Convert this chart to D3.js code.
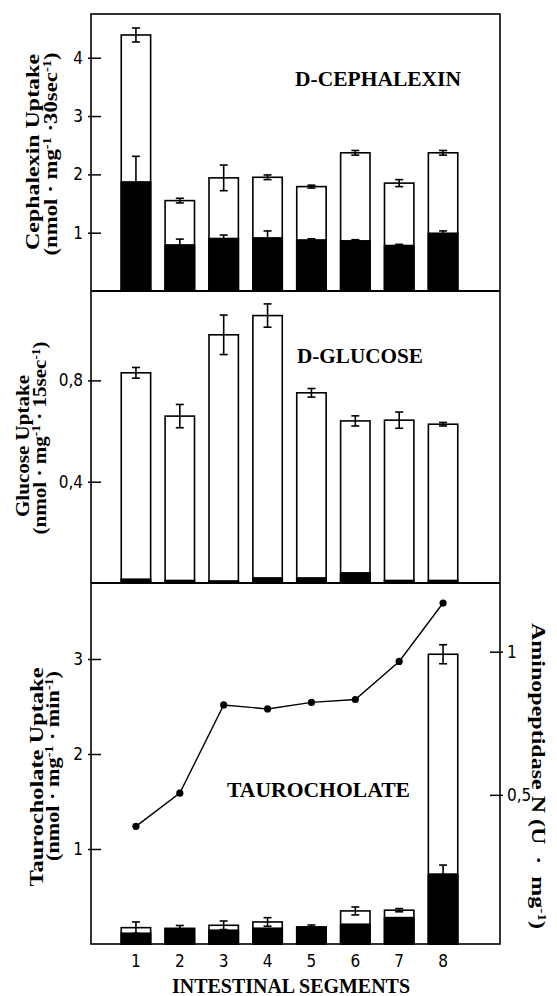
<!DOCTYPE html>
<html>
<head>
<meta charset="utf-8">
<script src="https://cdn.jsdelivr.net/npm/d3@7"></script>
<style>
  body { margin: 0; background: #fff; }
  text { white-space: pre; }
</style>
</head>
<body>
<script>
const segments = [1, 2, 3, 4, 5, 6, 7, 8];

// D-cephalexin uptake, total bar (white) and black part
const cephTotal = [4.39, 1.55, 1.94, 1.95, 1.79, 2.37, 1.85, 2.37];
const cephTotalErr = [0.12, 0.04, 0.22, 0.04, 0.025, 0.04, 0.06, 0.04];
const cephBlack = [1.87, 0.79, 0.9, 0.91, 0.875, 0.86, 0.78, 0.99];
const cephBlackErr = [0.44, 0.1, 0.06, 0.12, 0.02, 0.02, 0.02, 0.04];

// D-glucose uptake
const glucTotal = [0.83, 0.659, 0.98, 1.056, 0.751, 0.64, 0.643, 0.627];
const glucTotalErr = [0.021, 0.046, 0.078, 0.046, 0.017, 0.02, 0.032, 0.007];
const glucBlack = [0.015, 0.01, 0.008, 0.02, 0.02, 0.04, 0.01, 0.01];

// taurocholate uptake
const tauroTotal = [0.172, 0.165, 0.197, 0.232, 0.18, 0.348, 0.356, 3.05];
const tauroTotalErr = [0.06, 0.03, 0.045, 0.045, 0.02, 0.042, 0.017, 0.1];
const tauroBlack = [0.113, 0.155, 0.145, 0.166, 0.175, 0.208, 0.278, 0.736];
const tauroBlackErr = [0, 0, 0, 0, 0, 0, 0, 0.095];

// aminopeptidase N activity (right axis)
const aminoN = [0.39, 0.506, 0.814, 0.8, 0.823, 0.833, 0.966, 1.17];

const cephTicks = [1, 2, 3, 4];
const glucTicks = [0.4, 0.8];
const tauroTicks = [1, 2, 3];
const aminoTicks = [0.5, 1];

const width = 557,
  height = 996;
const frameL = 91,
  frameR = 500,
  frameT = 14,
  base1 = 291,
  base2 = 583,
  base3 = 944;

const serif = "'Liberation Serif', 'Times New Roman', serif";
const narrow = "'DejaVu Sans Condensed', 'Liberation Sans Narrow', sans-serif";
const comma = d => String(d).replace(".", ",");

const svg = d3
  .select("body")
  .append("svg")
  .attr("width", width)
  .attr("height", height);

const x = d3
  .scaleBand()
  .domain(segments)
  .range([114, 465])
  .paddingInner(0.33)
  .paddingOuter(0.165);

const yCeph = d3.scaleLinear().domain([0, 4.75]).range([base1, frameT]);
const yGluc = d3.scaleLinear().domain([0, 1.153]).range([base2, base1]);
const yTauro = d3.scaleLinear().domain([0, 3.8]).range([base3, base2]);
const yAmino = d3.scaleLinear().domain([0, 1.24]).range([938, base2]);

function drawBars(total, totalErr, black, blackErr, y) {
  const g = svg.append("g");
  const bw = x.bandwidth();

  g.selectAll("rect.total")
    .data(segments)
    .enter()
    .append("rect")
    .attr("class", "total")
    .attr("x", d => x(d))
    .attr("width", bw)
    .attr("y", (d, i) => y(total[i]))
    .attr("height", (d, i) => y(0) - y(total[i]))
    .attr("fill", "#fff")
    .attr("stroke", "#000")
    .attr("stroke-width", 1.6);

  g.selectAll("rect.black")
    .data(segments)
    .enter()
    .append("rect")
    .attr("class", "black")
    .attr("x", d => x(d))
    .attr("width", bw)
    .attr("y", (d, i) => y(black[i]))
    .attr("height", (d, i) => y(0) - y(black[i]))
    .attr("fill", "#000")
    .attr("stroke", "#000")
    .attr("stroke-width", 1.6);

  function errors(vals, errs) {
    if (!errs) return;
    const cx = d => x(d) + bw / 2;
    const idx = d => segments.indexOf(d);
    const e = g
      .append("g")
      .selectAll("g")
      .data(segments.filter((d, i) => errs[i] > 0))
      .enter()
      .append("g")
      .attr("stroke", "#000")
      .attr("stroke-width", 1.6);
    e.append("line")
      .attr("x1", cx)
      .attr("x2", cx)
      .attr("y1", d => y(vals[idx(d)] - errs[idx(d)]))
      .attr("y2", d => y(vals[idx(d)] + errs[idx(d)]));
    [1, -1].forEach(s => {
      e.append("line")
        .attr("x1", d => cx(d) - 4)
        .attr("x2", d => cx(d) + 4)
        .attr("y1", d => y(vals[idx(d)] + s * errs[idx(d)]))
        .attr("y2", d => y(vals[idx(d)] + s * errs[idx(d)]));
    });
  }
  errors(total, totalErr);
  errors(black, blackErr);
}

drawBars(cephTotal, cephTotalErr, cephBlack, cephBlackErr, yCeph);
drawBars(glucTotal, glucTotalErr, glucBlack, null, yGluc);
drawBars(tauroTotal, tauroTotalErr, tauroBlack, tauroBlackErr, yTauro);

// aminopeptidase line
const cx = d => x(d) + x.bandwidth() / 2;
svg
  .append("path")
  .datum(segments)
  .attr("fill", "none")
  .attr("stroke", "#000")
  .attr("stroke-width", 1.4)
  .attr("d", d3.line().x(cx).y((d, i) => yAmino(aminoN[i])));

svg
  .append("g")
  .selectAll("circle")
  .data(segments)
  .enter()
  .append("circle")
  .attr("cx", cx)
  .attr("cy", (d, i) => yAmino(aminoN[i]))
  .attr("r", 3.6)
  .attr("fill", "#000");

// frame and panel dividers
svg
  .append("rect")
  .attr("x", frameL)
  .attr("y", frameT)
  .attr("width", frameR - frameL)
  .attr("height", base3 - frameT)
  .attr("fill", "none")
  .attr("stroke", "#000")
  .attr("stroke-width", 1.6);

[base1, base2].forEach(b => {
  svg
    .append("line")
    .attr("x1", frameL)
    .attr("x2", frameR)
    .attr("y1", b)
    .attr("y2", b)
    .attr("stroke", "#000")
    .attr("stroke-width", 2.2);
});

// ticks stick out a little on the outer side of the frame
function styleAxis(g, out) {
  g.select(".domain").remove();
  g.selectAll(".tick line").attr("stroke-width", 1.5).attr("x1", out || 0);
  g.selectAll("text")
    .attr("font-family", narrow)
    .attr("font-size", 17);
}

svg
  .append("g")
  .attr("transform", `translate(${frameL},0)`)
  .call(
    d3.axisLeft(yCeph).tickValues(cephTicks).tickFormat(String).tickSize(-10).tickPadding(8)
  )
  .call(styleAxis, -3);

svg
  .append("g")
  .attr("transform", `translate(${frameL},0)`)
  .call(
    d3.axisLeft(yGluc).tickValues(glucTicks).tickFormat(comma).tickSize(-10).tickPadding(8)
  )
  .call(styleAxis, -3);

svg
  .append("g")
  .attr("transform", `translate(${frameL},0)`)
  .call(
    d3.axisLeft(yTauro).tickValues(tauroTicks).tickFormat(String).tickSize(-10).tickPadding(8)
  )
  .call(styleAxis, -3);

svg
  .append("g")
  .attr("transform", `translate(${frameR},0)`)
  .call(
    d3.axisRight(yAmino).tickValues(aminoTicks).tickFormat(comma).tickSize(-10).tickPadding(7)
  )
  .call(styleAxis, 3);

svg
  .append("g")
  .attr("transform", `translate(0,${base3})`)
  .call(d3.axisBottom(x).tickSize(0).tickPadding(11))
  .call(styleAxis);

// rotated axis titles, parts with sup:true are superscripts
function title(parts, tx, ty, rot, len) {
  const t = svg
    .append("text")
    .attr("transform", `translate(${tx},${ty}) rotate(${rot})`)
    .attr("text-anchor", "middle")
    .attr("font-family", serif)
    .attr("font-weight", "bold")
    .attr("font-size", 19)
    .attr("textLength", len)
    .attr("lengthAdjust", "spacingAndGlyphs");
  parts.forEach(p => {
    if (p.sup) {
      t.append("tspan").attr("font-size", 12).attr("dy", -6).text(p.t);
    } else {
      t.append("tspan").attr("dy", p.after ? 6 : 0).text(p.t);
    }
  });
  return t;
}

function unitParts(per) {
  return [
    { t: "(nmol · mg" },
    { t: "-1", sup: true },
    { t: per, after: true },
    { t: "-1", sup: true },
    { t: ")", after: true }
  ];
}

title([{ t: "Cephalexin Uptake" }], 39, 152, -90, 196);
title(unitParts(" ·30sec"), 57, 154, -90, 203);

title([{ t: "Glucose Uptake" }], 29, 446, -90, 142);
title(unitParts(" · 15sec"), 46, 438, -90, 193);

title([{ t: "Taurocholate Uptake" }], 43, 777, -90, 219);
title(unitParts(" · min"), 59, 766, -90, 190);

title(
  [
    { t: "Aminopeptidase N (U  ·  mg" },
    { t: "-1", sup: true },
    { t: ")", after: true }
  ],
  532,
  776,
  90,
  306
);

// panel labels
function label(txt, lx, ly, len) {
  svg
    .append("text")
    .attr("x", lx)
    .attr("y", ly)
    .attr("font-family", serif)
    .attr("font-weight", "bold")
    .attr("font-size", 20)
    .attr("textLength", len)
    .attr("lengthAdjust", "spacingAndGlyphs")
    .text(txt);
}
label("D-CEPHALEXIN", 295, 86, 166);
label("D-GLUCOSE", 297, 363, 126);
label("TAUROCHOLATE", 227, 797, 183);
label("INTESTINAL SEGMENTS", 172, 993, 238);
</script>
</body>
</html>
